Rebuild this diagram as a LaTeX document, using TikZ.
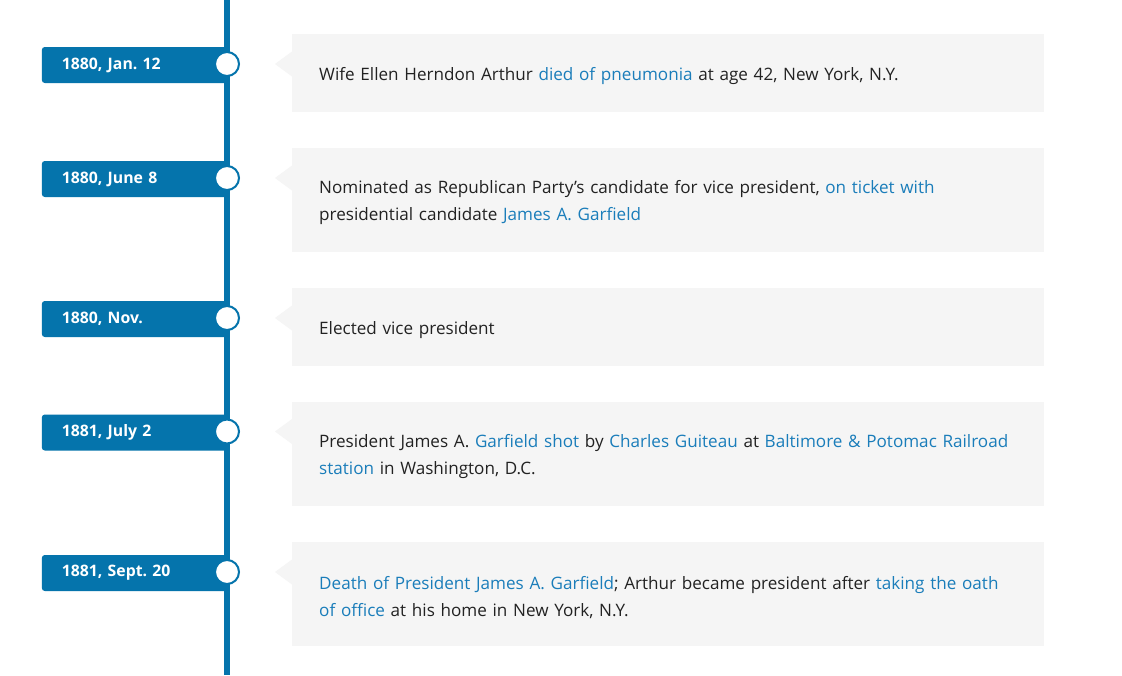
\documentclass[tikz,border=0pt]{standalone}
\usepackage{fontspec}
\setmainfont{Open Sans}[BoldFont={Open Sans Bold}]
\usetikzlibrary{positioning}
\definecolor{tagblue}{HTML}{0574AC}
\definecolor{linkblue}{HTML}{1A7DBA}
\definecolor{boxgray}{HTML}{F5F5F5}
\definecolor{bodytext}{HTML}{222222}
\newcommand{\lnk}[1]{\textcolor{linkblue}{#1}}
\frenchspacing

\begin{document}
\begin{tikzpicture}[
  x=1pt, y=-1pt,
  datetag/.style={fill=tagblue,rounded corners=3pt,minimum height=36pt,text width=145pt,inner xsep=20pt,inner ysep=0pt,align=left,text=white,font=\bfseries\fontsize{15.8}{18}\selectfont},
  dot/.style={circle,draw=tagblue,line width=2pt,fill=white,minimum size=24pt,inner sep=0pt},
  ]
  \tikzset{%
    infobox/.style={
      fill=boxgray,
      anchor=north west,
      text width=698pt,
      inner xsep=27pt,
      minimum height=78pt,
      text height=19pt,
      align=left,
      text=bodytext,
      font=\fontsize{17.1}{27}\selectfont,
    },
    spine/.style={draw=tagblue,line width=5.5pt},
  }
  \fill[white] (0,0) rectangle (1122,675);
  \useasboundingbox (0,0) rectangle (1122,675);
  %Points on the spine
  \coordinate (top) at (227,0);
  \coordinate (bottom) at (227,675);
  \coordinate (p1) at (227,64);
  \coordinate (p2) at (227,178);
  \coordinate (p3) at (227,318);
  \coordinate (p4) at (227,431.5);
  \coordinate (p5) at (227,572);
  %Date tags
  \node[datetag,left=0pt of p1,yshift=-1pt](d1){1880, Jan. 12};
  \node[datetag,left=0pt of p2,yshift=-1pt](d2){1880, June 8};
  \node[datetag,left=0pt of p3,yshift=-1pt](d3){1880, Nov.};
  \node[datetag,left=0pt of p4,yshift=-1pt](d4){1881, July 2};
  \node[datetag,left=0pt of p5,yshift=-1pt](d5){1881, Sept. 20};
  %Spine
  \draw[spine] (top) -- (bottom);
  \node[dot](c1) at (p1){};
  \node[dot](c2) at (p2){};
  \node[dot](c3) at (p3){};
  \node[dot](c4) at (p4){};
  \node[dot](c5) at (p5){};
  %Boxes
  \node[infobox](b1) at (292,34){Wife Ellen Herndon Arthur \lnk{died of pneumonia} at age 42, New York, N.Y.};
  \node[infobox,minimum height=104pt](b2) at (292,147.5){Nominated as Republican Party’s candidate for vice president, \lnk{on ticket with}\\ presidential candidate \lnk{James A. Garfield}};
  \node[infobox](b3) at (292,287.5){Elected vice president};
  \node[infobox,minimum height=104pt](b4) at (292,401.5){President James A. \lnk{Garfield shot} by \lnk{Charles Guiteau} at \lnk{Baltimore \& Potomac Railroad}\\ \lnk{station} in Washington, D.C.};
  \node[infobox,minimum height=104pt](b5) at (292,542){\lnk{Death of President James A. Garfield}; Arthur became president after \lnk{taking the oath}\\ \lnk{of office} at his home in New York, N.Y.};
  %Notches
  \fill[boxgray] (b1.west |- c1) ++(0,-12.5) -- ++(-17,12.5) -- ++(17,12.5) -- cycle;
  \fill[boxgray] (b2.west |- c2) ++(0,-12.5) -- ++(-17,12.5) -- ++(17,12.5) -- cycle;
  \fill[boxgray] (b3.west |- c3) ++(0,-12.5) -- ++(-17,12.5) -- ++(17,12.5) -- cycle;
  \fill[boxgray] (b4.west |- c4) ++(0,-12.5) -- ++(-17,12.5) -- ++(17,12.5) -- cycle;
  \fill[boxgray] (b5.west |- c5) ++(0,-12.5) -- ++(-17,12.5) -- ++(17,12.5) -- cycle;
\end{tikzpicture}
\end{document}
